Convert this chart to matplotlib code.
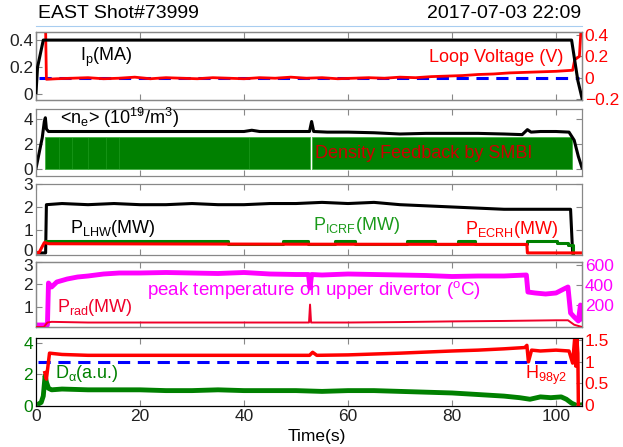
import matplotlib
matplotlib.use("Agg")
import matplotlib.pyplot as plt
import matplotlib.transforms as mtransforms
from matplotlib.lines import Line2D

plt.rcParams["font.family"] = ["Liberation Sans", "DejaVu Sans"]
plt.rcParams["mathtext.fontset"] = "custom"
plt.rcParams["mathtext.rm"] = "Liberation Sans"
plt.rcParams["mathtext.it"] = "Liberation Sans:italic"
plt.rcParams["axes.unicode_minus"] = False

# ---- data (time in s) ----
ip_t = [0, 0.3, 1.4, 2, 20, 40, 60, 80, 100, 103.0, 104.2, 105]
ip = [0.01, 0.2, 0.4, 0.4, 0.4, 0.4, 0.4, 0.4, 0.4, 0.4, 0.1, -0.03]

vloop_t = [1.4, 1.85, 2.0, 4, 7, 10, 13, 16, 19, 22, 25, 28, 31, 34, 37, 40, 43, 46, 49,
           52, 55, 58, 61, 64, 67, 70, 73, 76, 79, 82, 85, 88, 91, 94, 97, 100,
           103.2, 103.6, 104.5, 104.8]
vloop = [0.45, 0.45, -0.015, -0.01, -0.005, 0.0, -0.01, -0.005, 0.005, -0.01, 0.0, -0.005,
         -0.01, 0.0, -0.005, -0.01, 0.0, -0.005, 0.005, -0.005, 0.0, -0.01, -0.005, 0.0,
         -0.005, 0.005, 0.0, 0.01, 0.015, 0.02, 0.03, 0.035, 0.045, 0.05, 0.055, 0.06,
         0.07, 0.17, 0.2, 0.45]
vloop_ref = 0.0

ne_t = [0, 1.2, 1.6, 1.8, 2.0, 2.4, 10, 20, 30, 40, 41.5, 43, 50, 52.6, 53.0, 53.4, 56, 60,
        65, 70, 75, 80, 85, 90, 93.5, 94.5, 95.2, 97, 100, 102.5, 103.5, 104.3, 105]
ne = [0.05, 2.5, 3.8, 4.1, 3.2, 3.0, 3.0, 3.0, 3.0, 3.0, 3.1, 3.0, 3.0, 3.0, 3.8, 3.0, 2.95,
      2.95, 2.9, 2.8, 2.85, 2.85, 2.85, 2.8, 2.75, 3.15, 2.95, 3.0, 3.0, 2.95, 2.3, 1.0, 0.1]

smbi_start = [1.7, 53.0]
smbi_end = [52.7, 103.1]
smbi_level = 2.55
smbi_marks = [4.5, 7.0, 10.0, 13.5, 16.0, 41.0]

lhw_t = [0, 1.85, 2.0, 5, 10, 15, 20, 25, 30, 35, 40, 45, 50, 55, 60, 65, 70, 75, 80, 85,
         90, 95, 100, 102.8, 103.2]
lhw = [0, 0, 2.1, 2.15, 2.1, 2.15, 2.1, 2.1, 2.15, 2.1, 2.1, 2.15, 2.15, 2.2, 2.15, 2.2,
       2.1, 2.05, 2.0, 1.95, 1.9, 1.9, 1.9, 1.9, 0]

icrf_t = [1.9, 37.0, 47.5, 52.3, 57.5, 61.3, 71.3, 76.7, 81.2, 84.4, 94.4, 100.2, 102.3, 103.3]
icrf = [0.52, 0.38, 0.52, 0.38, 0.52, 0.38, 0.52, 0.38, 0.52, 0.38, 0.52, 0.44, 0.36, 0.0]

ecrh_t = [0, 0.6, 1.6, 2.5, 50, 94.4, 94.5, 105]
ecrh = [0.02, 0.02, 0.45, 0.4, 0.38, 0.37, 0.0, 0.0]

prad_t = [0, 1.5, 2.2, 3, 10, 20, 30, 40, 50, 52.5, 52.7, 52.9, 60, 70, 80, 90, 100, 102.3,
          103.5, 105]
prad = [0.1, 0.1, 0.3, 0.33, 0.3, 0.3, 0.3, 0.3, 0.3, 0.3, 1.1, 0.3, 0.3, 0.32, 0.35, 0.37,
        0.4, 0.4, 0.2, 0.1]

tdiv_t = [0, 2.2, 2.4, 3, 4, 6, 8, 10, 13, 16, 20, 25, 30, 35, 40, 45, 50, 52.4, 52.7, 53.0,
          55, 60, 65, 70, 75, 80, 85, 90, 94.3, 94.6, 96, 98, 100, 101.5, 102.3, 102.8,
          103.5, 104.3, 104.7, 105]
tdiv = [0, 0, 420, 380, 430, 460, 480, 490, 510, 520, 520, 525, 520, 515, 525, 510, 505, 505,
        370, 505, 500, 510, 505, 500, 495, 485, 490, 490, 500, 330, 320, 310, 320, 360, 380,
        120, 80, 40, 200, 60]

h98_t = [1.7, 2.0, 2.6, 5, 10, 20, 30, 40, 50, 52.6, 53.2, 54, 60, 70, 80, 85, 90, 94.0,
         94.4, 94.7, 95.3, 97, 100, 102.5, 103.2, 103.6, 103.8, 104.0, 104.2, 104.3]
h98 = [0.75, 0.6, 1.2, 1.17, 1.15, 1.15, 1.15, 1.15, 1.15, 1.15, 1.22, 1.15, 1.16, 1.2,
       1.25, 1.27, 1.3, 1.33, 1.38, 1.0, 1.27, 1.25, 1.27, 1.25, 0.97, 1.55, 0.9, 1.55, 1.2, 0.0]
h98_ref = 1.0

da_t = [0, 1.0, 1.4, 1.75, 2.0, 2.4, 3, 5, 10, 15, 20, 25, 30, 35, 40, 45, 50, 55, 60, 65,
        70, 75, 80, 85, 90, 93, 95, 97, 99, 101, 102, 103, 104, 105]
da = [0, 0.2, 0.6, 1.9, 1.5, 1.1, 1.0, 1.05, 1.0, 1.0, 1.0, 0.95, 0.95, 1.0, 0.95, 0.95,
      0.95, 0.9, 0.95, 0.95, 0.9, 0.85, 0.8, 0.7, 0.6, 0.5, 0.4, 0.55, 0.5, 0.55, 0.4, 0.15,
      0.0, 0.05]

time_ticks = [0, 20, 40, 60, 80, 100]

W, H = 623, 447
fig = plt.figure(figsize=(W / 100, H / 100), dpi=100)

GRAY = "#888888"
RED = "#ff0000"
GREEN = "#008000"
MAGENTA = "#ff00ff"
BLUE = "#0000ff"
TICK_SIZE = 12.5


def panel(top, bottom):
    ax = fig.add_axes([36 / W, 1 - bottom / H, 546 / W, (bottom - top) / H])
    ax.set_xlim(0, 105)
    ax.set_xticks(time_ticks)
    ax.tick_params(direction="in", length=4, width=0.8, color=GRAY, top=True, right=True,
                   labelsize=TICK_SIZE, pad=2, labelcolor="#222222")
    ax.tick_params(axis="x", labelbottom=False)
    for s in ax.spines.values():
        s.set_color(GRAY)
        s.set_linewidth(0.9)
    return ax


def twin(ax, color):
    ax2 = ax.twinx()
    ax2.tick_params(direction="in", length=4, width=0.8, color=GRAY, labelsize=TICK_SIZE,
                    pad=2, labelcolor=color)
    return ax2


def nudge(label, dy_px):
    label.set_transform(label.get_transform() +
                        mtransforms.ScaledTranslation(0, dy_px / 100, fig.dpi_scale_trans))


def ftext(x, y, s, color="black", size=13, ha="left"):
    fig.text(x / W, 1 - y / H, s, color=color, fontsize=size, ha=ha, va="center")


# header
ftext(38, 13, "EAST Shot#73999", size=14)
ftext(581, 13, "2017-07-03 22:09", size=14, ha="right")
fig.add_artist(Line2D([36 / W, 582 / W], [1 - 26 / H, 1 - 26 / H], color="#a8cdf0", lw=0.8))

# panel 1: Ip and loop voltage
ax1 = panel(32, 100)
ax1.plot(ip_t, ip, color="black", lw=2.2, zorder=3)
ax1.set_ylim(-0.044, 0.46)
ax1.set_yticks([0, 0.2, 0.4], ["0", "0.2", "0.4"])
ax1r = twin(ax1, RED)
ax1r.plot([0.6, 104.5], [vloop_ref, vloop_ref], color=BLUE, lw=2.2, dashes=(4, 2.5))
ax1r.plot(vloop_t, vloop, color=RED, lw=2.0)
ax1r.set_ylim(-0.21, 0.43)
ax1r.set_yticks([-0.2, 0, 0.2, 0.4], ["\u22120.2", "0", "0.2", "0.4"])
ax1.set_zorder(ax1r.get_zorder() + 1)
ax1.patch.set_visible(False)
ftext(80, 57, r"I$_\mathregular{p}$(MA)")
ftext(563, 58, "Loop Voltage (V)", color=RED, ha="right")

# panel 2: density and SMBI
ax2 = panel(109, 176)
for a, b in zip(smbi_start, smbi_end):
    ax2.bar(a, smbi_level, width=b - a, align="edge", color=GREEN, edgecolor="#40b040",
            linewidth=0.6)
ax2.vlines(smbi_marks, 0, smbi_level, color="#3cb43c", lw=0.5, alpha=0.5)
ax2.plot(ne_t, ne, color="black", lw=2.2)
ax2.set_ylim(-0.56, 4.8)
ax2.set_yticks([0, 2, 4])
ftext(60, 118, r"<n$_\mathregular{e}$> (10$^\mathregular{19}$/m$^\mathregular{3}$)")
ftext(315, 153, "Density Feedback by SMBI", color="#cc0000", size=13)

# panel 3: heating powers
ax3 = panel(184, 255)
ax3.plot(lhw_t, lhw, color="black", lw=2.2)
ax3.plot(icrf_t, icrf, color=GREEN, lw=2.2, drawstyle="steps-post")
ax3.plot(ecrh_t, ecrh, color=RED, lw=2.2)
ax3.set_ylim(-0.09, 3.0)
ax3.set_yticks([0, 1, 2, 3])
nudge(ax3.get_yticklabels()[0], 3)
ftext(70, 228, r"P$_\mathregular{LHW}$(MW)")
ftext(313, 225, r"P$_\mathregular{ICRF}$(MW)", color="#1a9a1a")
ftext(465, 230, r"P$_\mathregular{ECRH}$(MW)", color=RED)

# panel 4: radiated power and divertor temperature
ax4 = panel(262, 327)
ax4.plot(prad_t, prad, color="#f0002a", lw=1.4, zorder=3)
ax4.set_ylim(0.1, 3.0)
ax4.set_yticks([1, 2, 3])
nudge(ax4.get_yticklabels()[-1], -3)
ax4r = twin(ax4, MAGENTA)
ax4r.plot(tdiv_t, tdiv, color=MAGENTA, lw=3.5)
ax4r.set_ylim(-20, 630)
ax4r.set_yticks([200, 400, 600])
ax4.set_zorder(ax4r.get_zorder() + 1)
ax4.patch.set_visible(False)
ftext(57, 308, r"P$_\mathregular{rad}$(MW)", color="#f0002a")
ftext(147, 290, r"peak temperature on upper divertor ($^\mathregular{o}$C)", color=MAGENTA,
      size=13.5)

# panel 5: D-alpha and H98
ax5 = panel(338, 406)
ax5.plot(da_t, da, color=GREEN, lw=3.5)
ax5.set_ylim(-0.03, 4.3)
ax5.set_yticks([0, 2, 4])
ax5.tick_params(axis="y", labelcolor=GREEN)
ax5.tick_params(axis="x", labelbottom=True, labelcolor="#222222")
ax5r = twin(ax5, RED)
ax5r.plot([0.3, 104.0], [h98_ref, h98_ref], color=BLUE, lw=2.2, dashes=(4, 2.5))
ax5r.plot(h98_t, h98, color=RED, lw=2.5)
ax5r.set_ylim(-0.02, 1.55)
ax5r.set_yticks([0, 0.5, 1, 1.5], ["0", "0.5", "1", "1.5"])
ftext(55, 373, r"D$_\mathregular{α}$(a.u.)", color=GREEN)
ftext(525, 375, r"H$_\mathregular{98y2}$", color=RED)
ftext(317, 437, "Time(s)", size=12.5, ha="center")

fig.savefig("out.png", dpi=100)
